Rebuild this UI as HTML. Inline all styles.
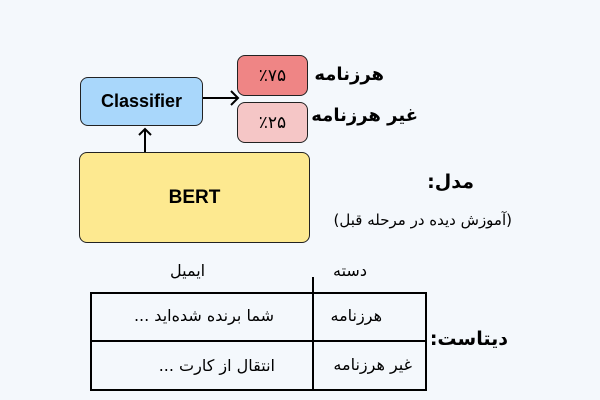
<!DOCTYPE html>
<html><head><meta charset="utf-8"><style>
body{margin:0;width:600px;height:400px;background:#f4f8fc;position:relative;overflow:hidden;font-family:"Liberation Sans","Noto Sans CJK SC",sans-serif;}
.a{position:absolute;line-height:1;}
.box{position:absolute;border:1.5px solid #222;border-radius:8px;box-sizing:border-box;display:flex;align-items:center;justify-content:center;}
.fa{font-family:"DejaVu Sans","Noto Sans CJK SC",sans-serif;direction:rtl;white-space:nowrap;}
</style></head><body>
<div class="box" style="left:80px;top:77px;width:123px;height:49px;background:#a9d7fb;font-weight:bold;font-size:18px;">Classifier</div>
<div class="box" style="left:79px;top:152px;width:231px;height:91px;background:#fde990;font-weight:bold;font-size:19px;">BERT</div>
<div class="box fa" style="left:237px;top:55px;width:71px;height:41px;background:#ef8585;font-size:17px;">٪۷۵</div>
<div class="box fa" style="left:237px;top:102px;width:71px;height:41px;background:#f5c6c6;font-size:17px;">٪۲۵</div>
<svg class="a" style="left:0;top:0" width="600" height="400">
<line x1="203" y1="98" x2="237" y2="98" stroke="#000" stroke-width="2"/>
<polyline points="231,91 238,98 231,105" fill="none" stroke="#000" stroke-width="2"/>
<line x1="145" y1="152" x2="145" y2="129" stroke="#000" stroke-width="2"/>
<polyline points="139,135 145,129 151,135" fill="none" stroke="#000" stroke-width="2"/>
<rect x="91" y="293" width="335" height="97" fill="none" stroke="#000" stroke-width="2"/>
<line x1="313" y1="277" x2="313" y2="390" stroke="#000" stroke-width="2"/>
<line x1="91" y1="341" x2="426" y2="341" stroke="#000" stroke-width="2"/>
</svg>
<div class="a fa" style="right:216px;top:66px;font-size:18px;font-weight:bold;">هرزنامه</div>
<div class="a fa" style="right:182px;top:107px;font-size:18px;font-weight:bold;">غیر هرزنامه</div>
<div class="a fa" style="right:126px;top:173px;font-size:19px;font-weight:bold;">مدل:</div>
<div class="a fa" style="right:88px;top:213px;font-size:15px;">(آموزش دیده در مرحله قبل)</div>
<div class="a fa" style="left:170px;top:263px;font-size:16px;">ایمیل</div>
<div class="a fa" style="left:333px;top:263px;font-size:16px;">دسته</div>
<div class="a fa" style="right:326px;top:308px;font-size:16px;">شما برنده شده‌اید ...</div>
<div class="a fa" style="right:218px;top:308px;font-size:16px;">هرزنامه</div>
<div class="a fa" style="right:325px;top:358px;font-size:16px;">انتقال از کارت ...</div>
<div class="a fa" style="right:188px;top:357px;font-size:16px;">غیر هرزنامه</div>
<div class="a fa" style="right:92px;top:330px;font-size:19px;font-weight:bold;">دیتاست:</div>
</body></html>
